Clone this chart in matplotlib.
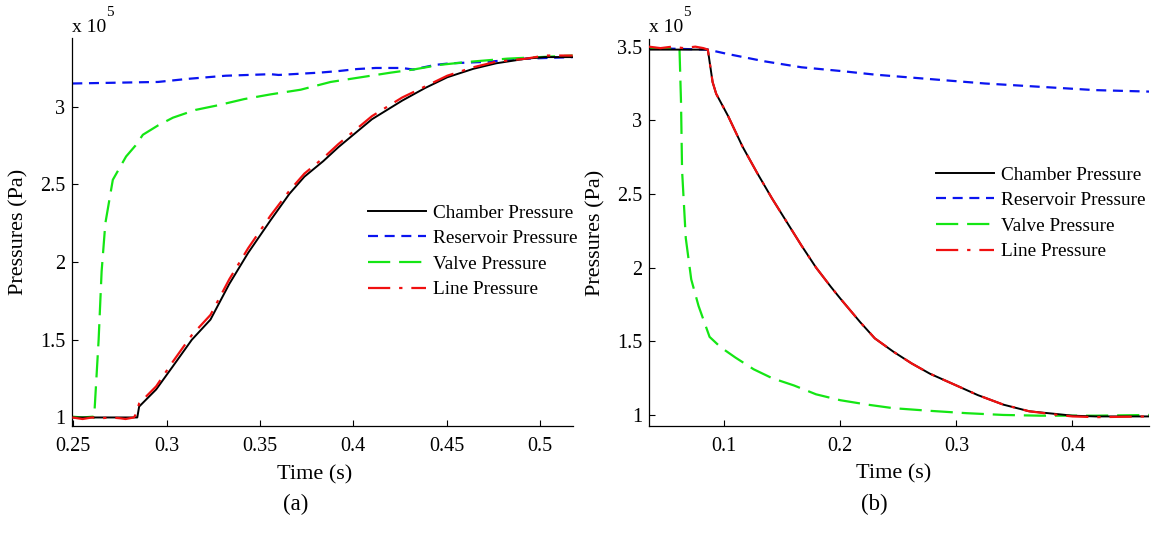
import numpy as np
import matplotlib
matplotlib.use("Agg")
import matplotlib.pyplot as plt
from matplotlib.ticker import FormatStrFormatter

plt.rcParams['font.family'] = ['Liberation Serif', 'DejaVu Serif']

# ---- (a) pressurisation, values in 1e5 Pa ----
a_ch_t = [0.2495, 0.270, 0.2843, 0.2853, 0.2944, 0.3034, 0.3135, 0.3235, 0.3336, 0.3437,
          0.3557, 0.3658, 0.3738, 0.3839, 0.392, 0.400, 0.410, 0.4262, 0.4383, 0.4503,
          0.4644, 0.4765, 0.4926, 0.5026, 0.5175]
a_ch_p = [1.0, 1.0, 1.0, 1.07, 1.18, 1.33, 1.50, 1.63, 1.86, 2.06,
          2.27, 2.44, 2.55, 2.65, 2.74, 2.82, 2.92, 3.04, 3.12, 3.19,
          3.245, 3.28, 3.31, 3.32, 3.32]

a_line_t = [0.2495, 0.255, 0.260, 0.265, 0.270, 0.275, 0.278, 0.2825, 0.2835, 0.2853,
            0.2944, 0.3034, 0.3135, 0.3235, 0.3336, 0.3437, 0.3557, 0.3658, 0.3738,
            0.3839, 0.392, 0.400, 0.410, 0.4262, 0.4383, 0.4503, 0.4644, 0.4765,
            0.4926, 0.5026, 0.5175]
a_line_p = [1.0, 0.99, 1.0, 0.995, 1.0, 0.995, 0.99, 1.0, 1.02, 1.09,
            1.20, 1.36, 1.53, 1.66, 1.89, 2.09, 2.30, 2.46, 2.57,
            2.67, 2.76, 2.84, 2.94, 3.06, 3.13, 3.20, 3.255, 3.29,
            3.31, 3.33, 3.33]

a_res_t = [0.2495, 0.2954, 0.3115, 0.3316, 0.3557, 0.360, 0.3819, 0.392, 0.402, 0.412,
           0.426, 0.432, 0.444, 0.452, 0.472, 0.4926, 0.5175]
a_res_p = [3.15, 3.16, 3.18, 3.20, 3.21, 3.205, 3.22, 3.23, 3.243, 3.25,
           3.25, 3.24, 3.27, 3.28, 3.29, 3.31, 3.32]

a_valve_t = [0.2495, 0.255, 0.2605, 0.2612, 0.2636, 0.2652, 0.2672, 0.2712, 0.2783, 0.2833,
             0.2873, 0.2954, 0.3034, 0.3155, 0.3276, 0.3417, 0.3557, 0.3718, 0.3879,
             0.404, 0.4201, 0.4322, 0.4463, 0.4624, 0.4825, 0.5175]
a_valve_p = [1.005, 1.0, 1.005, 1.0, 1.5, 1.94, 2.25, 2.53, 2.68, 2.75,
             2.82, 2.88, 2.93, 2.98, 3.01, 3.05, 3.08, 3.11, 3.16,
             3.19, 3.22, 3.24, 3.27, 3.29, 3.31, 3.33]

# ---- (b) depressurisation ----
b_ch_t = [0.035, 0.060, 0.0858, 0.0899, 0.093, 0.1032, 0.1158, 0.1285, 0.1411, 0.1538,
          0.1665, 0.1791, 0.1918, 0.200, 0.2171, 0.2297, 0.2456, 0.2614, 0.2772, 0.300,
          0.3184, 0.3405, 0.3627, 0.388, 0.400, 0.420, 0.466]
b_ch_p = [3.48, 3.48, 3.48, 3.26, 3.18, 3.03, 2.82, 2.64, 2.47, 2.31,
          2.15, 2.00, 1.87, 1.79, 1.63, 1.52, 1.43, 1.35, 1.28, 1.20,
          1.135, 1.07, 1.025, 1.005, 0.995, 0.99, 0.99]

b_line_t = [0.035, 0.045, 0.055, 0.065, 0.075, 0.082, 0.0858, 0.0899, 0.093, 0.1032,
            0.1158, 0.1285, 0.1411, 0.1538, 0.1665, 0.1791, 0.1918, 0.200, 0.2171,
            0.2297, 0.2456, 0.2614, 0.2772, 0.300, 0.3184, 0.3405, 0.3627, 0.388,
            0.400, 0.420, 0.466]
b_line_p = [3.50, 3.49, 3.50, 3.49, 3.50, 3.49, 3.48, 3.26, 3.18, 3.03,
            2.82, 2.64, 2.47, 2.31, 2.15, 2.00, 1.87, 1.79, 1.63,
            1.52, 1.43, 1.35, 1.28, 1.20, 1.135, 1.07, 1.025, 1.0,
            0.99, 0.985, 0.99]

b_res_t = [0.035, 0.0858, 0.103, 0.135, 0.1665, 0.200, 0.230, 0.2614, 0.293, 0.3247,
           0.3563, 0.388, 0.4196, 0.466]
b_res_p = [3.49, 3.48, 3.45, 3.40, 3.36, 3.335, 3.31, 3.29, 3.27, 3.25,
           3.235, 3.22, 3.205, 3.195]

b_valve_t = [0.035, 0.060, 0.0614, 0.0627, 0.0636, 0.0668, 0.0715, 0.0778, 0.0873, 0.0968,
             0.1095, 0.1253, 0.1411, 0.1601, 0.1791, 0.200, 0.2234, 0.2456, 0.2772,
             0.3089, 0.3405, 0.3722, 0.420, 0.466]
b_valve_p = [3.49, 3.49, 3.48, 3.12, 2.66, 2.20, 1.92, 1.74, 1.53, 1.46,
             1.39, 1.31, 1.25, 1.20, 1.14, 1.10, 1.07, 1.046, 1.028,
             1.012, 1.0, 0.995, 0.995, 1.0]

labels = ["Chamber Pressure", "Reservoir Pressure", "Valve Pressure", "Line Pressure"]

fig = plt.figure(figsize=(11.58, 5.33), dpi=100)
W, H = 1158.0, 533.0
ax1 = fig.add_axes([72.3 / W, 1 - 426 / H, 500.4 / W, 387.7 / H])
ax2 = fig.add_axes([649 / W, 1 - 426 / H, 500 / W, 387 / H])


def draw(ax, ch, res, valve, line):
    ax.plot(*ch, color='black', lw=1.4, label=labels[0], zorder=3)
    ax.plot(*res, color='#0a14f0', lw=1.6, dashes=(4.5, 3), label=labels[1])
    ax.plot(*valve, color='#14e614', lw=1.6, dashes=(10, 4), label=labels[2])
    ax.plot(*line, color='#f01010', lw=1.6, dashes=(10, 4, 1.5, 4), label=labels[3], zorder=4)
    for s in ['top', 'right']:
        ax.spines[s].set_visible(False)
    for s in ['left', 'bottom']:
        ax.spines[s].set_linewidth(0.9)
    ax.tick_params(direction='in', length=4, width=0.8, labelsize=14.5)
    ax.tick_params(axis='x', pad=8)
    ax.tick_params(axis='y', pad=5)
    ax.yaxis.set_major_formatter(FormatStrFormatter('%g'))
    ax.xaxis.set_major_formatter(FormatStrFormatter('%g'))
    ax.set_xlabel("Time (s)", fontsize=16)
    ax.set_ylabel("Pressures (Pa)", fontsize=16)


draw(ax1, (a_ch_t, a_ch_p), (a_res_t, a_res_p), (a_valve_t, a_valve_p), (a_line_t, a_line_p))
draw(ax2, (b_ch_t, b_ch_p), (b_res_t, b_res_p), (b_valve_t, b_valve_p), (b_line_t, b_line_p))

ax1.set_xlim(0.2495, 0.5175)
ax1.set_ylim(0.945, 3.441)
ax1.set_xticks([0.25, 0.3, 0.35, 0.4, 0.45, 0.5])
ax1.set_yticks([1, 1.5, 2, 2.5, 3])

ax2.set_xlim(0.0351, 0.466)
ax2.set_ylim(0.925, 3.552)
ax2.set_xticks([0.1, 0.2, 0.3, 0.4])
ax2.set_yticks([1, 1.5, 2, 2.5, 3, 3.5])

ax1.xaxis.set_label_coords(0.485, -0.1)
ax2.xaxis.set_label_coords(0.49, -0.1)
ax1.yaxis.set_label_coords(-0.088, 0.5)
ax2.yaxis.set_label_coords(-0.088, 0.5)

leg_kw = dict(frameon=False, fontsize=13.9, handlelength=3.0, handletextpad=0.35,
              labelspacing=0.42, borderpad=0, borderaxespad=0, loc='upper left',
              bbox_transform=fig.transFigure)
ax1.legend(bbox_to_anchor=(368 / W, 1 - 204 / H), **leg_kw)
ax2.legend(bbox_to_anchor=(936 / W, 1 - 166 / H), **leg_kw)

# exponent labels above the y axes
for x0 in (72.3, 649):
    fig.text(x0 / W, 1 - 32 / H, "x 10", fontsize=14, va='baseline', ha='left')
    fig.text((x0 + 34) / W, 1 - 16 / H, "5", fontsize=11, va='baseline', ha='left')

fig.text(296 / W, 1 - 504 / H, "(a)", fontsize=16.5, ha='center', va='center')
fig.text(874 / W, 1 - 504 / H, "(b)", fontsize=16.5, ha='center', va='center')

fig.savefig("out.png", dpi=100)
